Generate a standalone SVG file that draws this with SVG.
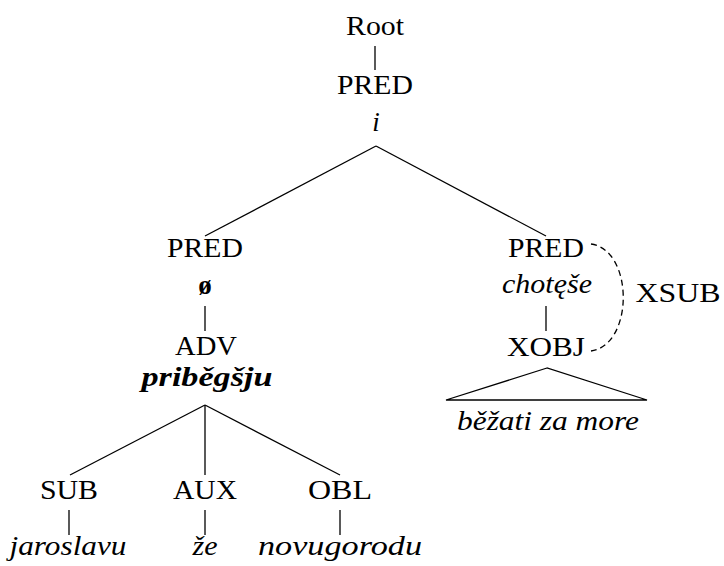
<svg xmlns="http://www.w3.org/2000/svg" width="724" height="566" viewBox="0 0 724 566">
<style>
text{font-family:"Liberation Serif","DejaVu Serif",serif;font-size:27px;fill:#000;text-anchor:middle}
.it{font-style:italic}
.bi{font-style:italic;font-weight:bold}
.b{font-weight:bold}
.ln{stroke:#000;stroke-width:1.3;fill:none}
.dash{stroke:#000;stroke-width:1.3;fill:none;stroke-dasharray:6 4}
</style>
<rect width="724" height="566" fill="#fff"/>
<g id="connectors">
<line class="ln" x1="375" y1="46" x2="375" y2="70"/>
<line class="ln" x1="376" y1="146" x2="205" y2="236"/>
<line class="ln" x1="376" y1="146" x2="546" y2="236"/>
<line class="ln" x1="205" y1="306" x2="205" y2="331"/>
<line class="ln" x1="205" y1="405" x2="70" y2="475"/>
<line class="ln" x1="205" y1="405" x2="205" y2="475"/>
<line class="ln" x1="205" y1="405" x2="340" y2="475"/>
<line class="ln" x1="69" y1="510" x2="69" y2="535"/>
<line class="ln" x1="205" y1="510" x2="205" y2="535"/>
<line class="ln" x1="340" y1="510" x2="340" y2="535"/>
<line class="ln" x1="546" y1="306" x2="546" y2="331"/>
<path class="dash" d="M591 244 C634 250 634 345 591 351"/>
</g>
<g id="root"><text x="375" y="35" textLength="58" lengthAdjust="spacingAndGlyphs">Root</text></g>
<g id="pred-top">
<text x="375" y="94" textLength="76" lengthAdjust="spacingAndGlyphs">PRED</text>
<text class="it" x="376" y="131">i</text>
</g>
<g id="pred-left">
<text x="205" y="257" textLength="76" lengthAdjust="spacingAndGlyphs">PRED</text>
<text class="b" x="205" y="294">ø</text>
</g>
<g id="adv">
<text x="206" y="355" textLength="62" lengthAdjust="spacingAndGlyphs">ADV</text>
<text class="bi" x="207" y="386" textLength="131" lengthAdjust="spacingAndGlyphs">priběgšju</text>
</g>
<g id="sub">
<text x="69" y="499" textLength="58" lengthAdjust="spacingAndGlyphs">SUB</text>
<text class="it" x="68" y="555" textLength="117" lengthAdjust="spacingAndGlyphs">jaroslavu</text>
</g>
<g id="aux">
<text x="205" y="499" textLength="64" lengthAdjust="spacingAndGlyphs">AUX</text>
<text class="it" x="205" y="555" textLength="25" lengthAdjust="spacingAndGlyphs">že</text>
</g>
<g id="obl">
<text x="340" y="499" textLength="64" lengthAdjust="spacingAndGlyphs">OBL</text>
<text class="it" x="340" y="555" textLength="164" lengthAdjust="spacingAndGlyphs">novugorodu</text>
</g>
<g id="pred-right">
<text x="546" y="257" textLength="76" lengthAdjust="spacingAndGlyphs">PRED</text>
<text class="it" x="547" y="293" textLength="90" lengthAdjust="spacingAndGlyphs">chotęše</text>
</g>
<g id="xobj">
<text x="546" y="356" textLength="78" lengthAdjust="spacingAndGlyphs">XOBJ</text>
<polygon class="ln" points="547,368 446,400 647,400"/>
<text class="it" x="548" y="430" textLength="182" lengthAdjust="spacingAndGlyphs">běžati za more</text>
</g>
<g id="xsub-label"><text x="678" y="302" textLength="85" lengthAdjust="spacingAndGlyphs">XSUB</text></g>
</svg>
